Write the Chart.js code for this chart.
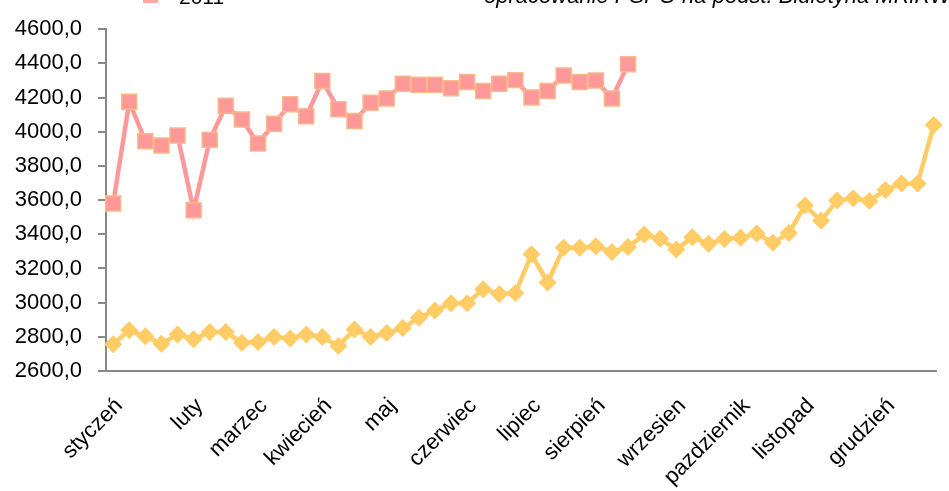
<!DOCTYPE html>
<html>
<head>
<meta charset="utf-8">
<script src="https://cdn.jsdelivr.net/npm/chart.js@4.4.1/dist/chart.umd.min.js"></script>
<style>
  html, body { margin: 0; padding: 0; background: #ffffff; overflow: hidden; }
  #wrap { position: relative; width: 949px; height: 491px; }
</style>
</head>
<body>
<div id="wrap"><canvas id="c" width="949" height="491"></canvas></div>
<script>
// ---- data ----
const weeks = [1,2,3,4,5,6,7,8,9,10,11,12,13,14,15,16,17,18,19,20,21,22,23,24,25,26,
               27,28,29,30,31,32,33,34,35,36,37,38,39,40,41,42,43,44,45,46,47,48,49,50,51,52];
const monthWeeks = [1, 6, 10, 14, 18, 23, 27, 31, 36, 40, 44, 49];
const monthNames = ['styczeń','luty','marzec','kwiecień','maj','czerwiec','lipiec','sierpień','wrzesien','pazdziernik','listopad','grudzień'];
const values2011 = [3580,4175,3945,3920,3978,3540,3953,4152,4071,3931,4047,4161,4090,4297,4132,4063,4169,
                    4194,4281,4275,4275,4254,4291,4239,4281,4302,4200,4239,4329,4291,4300,4194,4395];
const values2012 = [2757,2838,2803,2760,2814,2786,2828,2828,2766,2770,2799,2790,2814,2799,2747,2843,2799,2822,
                    2851,2911,2954,2996,2996,3079,3050,3056,3283,3118,3321,3321,3330,3297,3325,3398,3374,
                    3311,3383,3344,3373,3379,3404,3350,3408,3568,3479,3597,3611,3595,3659,3697,3697,4039];
const yTicks = [2600, 2800, 3000, 3200, 3400, 3600, 3800, 4000, 4200, 4400, 4600];
const legendLabel = '2011';
const sourceText = 'opracowanie PSPO na podst. Biuletyna MRiRW';

const FONT = '"Liberation Sans", Arial, sans-serif';

const headerPlugin = {
  id: 'header',
  afterDraw(chart) {
    const ctx = chart.ctx;
    ctx.save();
    ctx.fillStyle = '#FFA8A0';
    ctx.fillRect(143, -12, 15, 15);
    ctx.fillStyle = '#000000';
    ctx.textBaseline = 'alphabetic';
    ctx.textAlign = 'left';
    ctx.font = '21px ' + FONT;
    ctx.fillText(legendLabel, 179, 4);
    ctx.font = 'italic 22px ' + FONT;
    ctx.fillText(sourceText, 484, 3);
    ctx.restore();
  }
};

new Chart(document.getElementById('c'), {
  type: 'line',
  data: {
    datasets: [
      {
        label: '2012',
        data: values2012.map((v, i) => ({ x: weeks[i], y: v })),
        borderColor: '#FFCC66',
        backgroundColor: '#FFCC66',
        borderWidth: 4.5,
        pointStyle: 'rectRot',
        pointRadius: 9,
        pointBorderWidth: 0,
        pointBackgroundColor: '#FFCC66',
        tension: 0,
        clip: false
      },
      {
        label: '2011',
        data: values2011.map((v, i) => ({ x: weeks[i], y: v })),
        borderColor: '#FF9999',
        backgroundColor: '#FF9999',
        borderWidth: 4.5,
        pointStyle: 'rect',
        pointRadius: 10.6,
        pointBorderWidth: 1.5,
        pointBackgroundColor: '#FF9999',
        pointBorderColor: '#F8B888',
        tension: 0,
        clip: false
      }
    ]
  },
  options: {
    responsive: false,
    animation: false,
    layout: { padding: { top: 26, left: 0, right: 0, bottom: 0 } },
    plugins: { legend: { display: false }, tooltip: { enabled: false } },
    scales: {
      x: {
        type: 'linear',
        min: 0.553,
        max: 52.2,
        afterBuildTicks: s => { s.ticks = monthWeeks.map(v => ({ value: v })); },
        afterFit: s => { s.height = 120; },
        ticks: {
          autoSkip: false,
          maxRotation: 45,
          minRotation: 45,
          padding: 22,
          labelOffset: 6,
          color: '#000000',
          font: { family: FONT, size: 22 },
          callback: v => { const k = monthWeeks.indexOf(v); return k >= 0 ? monthNames[k] : ''; }
        },
        grid: { display: true, drawOnChartArea: false, drawTicks: false, color: '#888888' },
        border: { display: true, color: '#888888', width: 2 }
      },
      y: {
        min: 2600,
        max: 4600,
        afterBuildTicks: s => { s.ticks = yTicks.map(v => ({ value: v })); },
        afterFit: s => { s.width = 106; },
        ticks: {
          padding: 16,
          color: '#000000',
          font: { family: FONT, size: 22 },
          callback: v => v.toFixed(1).replace('.', ',')
        },
        grid: { display: true, drawOnChartArea: false, drawTicks: true, tickLength: 8, color: '#888888', lineWidth: 2 },
        border: { display: true, color: '#888888', width: 2 }
      }
    }
  },
  plugins: [headerPlugin]
});
</script>
</body>
</html>
